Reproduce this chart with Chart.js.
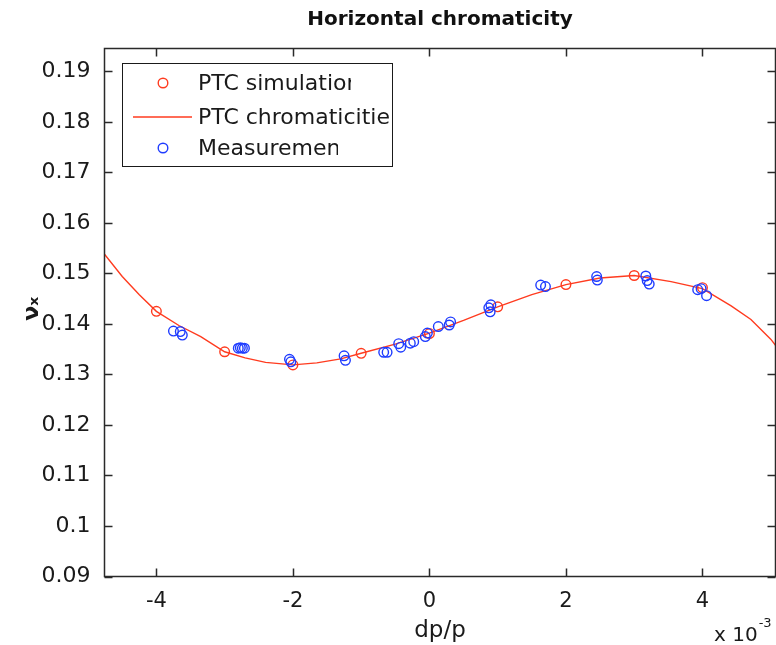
<!DOCTYPE html>
<html>
<head>
<meta charset="utf-8">
<title>Horizontal chromaticity</title>
<script src="https://cdn.jsdelivr.net/npm/chart.js@4.4.1/dist/chart.umd.min.js"></script>
<style>
  html, body { margin: 0; padding: 0; background: #fff; }
  canvas { display: block; }
</style>
</head>
<body>
<canvas id="chart" width="776" height="645"></canvas>
<script>
// dp/p in units of 1e-3
const simX = [-4, -3, -2, -1, 0, 1, 2, 3, 4];
const simY = [0.1425, 0.1345, 0.1319, 0.1342, 0.1381, 0.1434, 0.1478, 0.1496, 0.1472];

const curveX = [-4.76, -4.5, -4.25, -4.0, -3.67, -3.35, -3.0, -2.7, -2.4, -2.0, -1.65, -1.3, -1.0, -0.5, 0, 0.5, 1.0, 1.5, 2.0, 2.5, 3.0, 3.54, 4.0, 4.42, 4.71, 5.0, 5.07];
const curveY = [0.1538, 0.1494, 0.1458, 0.1425, 0.1397, 0.1375, 0.1345, 0.1333, 0.1324, 0.1319, 0.1323, 0.1331, 0.1342, 0.1360, 0.1382, 0.1407, 0.1434, 0.1458, 0.1478, 0.1491, 0.1496, 0.1484, 0.1470, 0.1436, 0.1409, 0.1370, 0.1358];

const measX = [-3.75, -3.65, -3.62, -2.80, -2.77, -2.74, -2.71, -2.05, -2.03, -1.25, -1.23, -0.67, -0.62, -0.45, -0.42, -0.28, -0.23, -0.06, -0.03, 0.13, 0.29, 0.31, 0.87, 0.90, 0.89, 1.63, 1.70, 2.45, 2.46, 3.17, 3.19, 3.22, 3.93, 3.98, 4.06];
const measY = [0.1386, 0.1385, 0.1378, 0.1352, 0.1353, 0.1352, 0.1352, 0.1330, 0.1325, 0.1337, 0.1328, 0.1344, 0.1344, 0.1361, 0.1354, 0.1362, 0.1365, 0.1375, 0.1382, 0.1395, 0.1398, 0.1404, 0.1432, 0.1438, 0.1424, 0.1477, 0.1474, 0.1494, 0.1487, 0.1495, 0.1486, 0.1479, 0.1468, 0.1470, 0.1456];

const xTicks = [-4, -2, 0, 2, 4];
const yTicks = [0.09, 0.10, 0.11, 0.12, 0.13, 0.14, 0.15, 0.16, 0.17, 0.18, 0.19];

const red = '#ff3b1f';
const blue = '#1f3cff';
const ink = '#1a1a1a';
const family = '"DejaVu Sans", "Liberation Sans", sans-serif';
const plotRight = 775.5;

function toPoints(xs, ys) {
    return xs.map(function (x, i) { return { x: x, y: ys[i] }; });
}

// the axes run to the right edge of the figure, past where the tick label padding would stop them
const edgePlugin = {
    id: 'edge',
    afterLayout: function (chart) {
        const a = chart.chartArea;
        a.right = plotRight;
        a.width = plotRight - a.left;
        const xs = chart.scales.x;
        xs.right = plotRight;
        xs.width = plotRight - xs.left;
        xs.configure();
        if (chart.titleBlock) {
            chart.titleBlock.right = plotRight;
            chart.titleBlock.width = plotRight - chart.titleBlock.left;
        }
    }
};

// box around the axes with inward ticks on all four sides
const framePlugin = {
    id: 'frame',
    afterDraw: function (chart) {
        const ctx = chart.ctx;
        const a = chart.chartArea;
        const xs = chart.scales.x;
        const ys = chart.scales.y;
        const len = 8;
        ctx.save();
        ctx.strokeStyle = '#2a2a2a';
        ctx.lineWidth = 1.5;
        ctx.strokeRect(a.left, a.top, a.right - a.left, a.bottom - a.top);
        ctx.beginPath();
        xTicks.forEach(function (v) {
            const px = Math.round(xs.getPixelForValue(v)) + 0.5;
            ctx.moveTo(px, a.bottom); ctx.lineTo(px, a.bottom - len);
            ctx.moveTo(px, a.top); ctx.lineTo(px, a.top + len);
        });
        yTicks.forEach(function (v) {
            const py = Math.round(ys.getPixelForValue(v)) + 0.5;
            ctx.moveTo(a.left, py); ctx.lineTo(a.left + len, py);
            ctx.moveTo(a.right, py); ctx.lineTo(a.right - len, py);
        });
        ctx.stroke();
        ctx.restore();
    }
};

// boxed legend in the upper left; labels are cut off the way the original shows them
const boxLegendPlugin = {
    id: 'boxLegend',
    afterDraw: function (chart) {
        const ctx = chart.ctx;
        const bx = 122.5, by = 63.5, bw = 270, bh = 103;
        const rows = [84, 118, 149];
        const cut = [351, 390, 338];
        ctx.save();
        ctx.fillStyle = '#fff';
        ctx.fillRect(bx, by, bw, bh);
        ctx.strokeStyle = '#1a1a1a';
        ctx.lineWidth = 1;
        ctx.strokeRect(bx, by, bw, bh);
        chart.data.datasets.forEach(function (ds, i) {
            const y = rows[i];
            ctx.strokeStyle = ds.borderColor;
            if (ds.showLine) {
                ctx.lineWidth = 1.5;
                ctx.beginPath();
                ctx.moveTo(133, y - 1); ctx.lineTo(192, y - 1);
                ctx.stroke();
            } else {
                ctx.lineWidth = 1.4;
                ctx.beginPath();
                ctx.arc(163, y - 1, 4.8, 0, Math.PI * 2);
                ctx.stroke();
            }
            ctx.save();
            ctx.beginPath();
            ctx.rect(bx, by, cut[i] - bx, bh);
            ctx.clip();
            ctx.fillStyle = ink;
            ctx.font = '22px ' + family;
            ctx.textBaseline = 'middle';
            ctx.textAlign = 'left';
            ctx.fillText(ds.label, 198, y);
            ctx.restore();
        });
        ctx.restore();
    }
};

// "x 10^-3" multiplier under the right end of the x axis
const exponentPlugin = {
    id: 'exponent',
    afterDraw: function (chart) {
        const ctx = chart.ctx;
        ctx.save();
        ctx.fillStyle = ink;
        ctx.textBaseline = 'alphabetic';
        ctx.textAlign = 'left';
        ctx.font = '20px ' + family;
        ctx.fillText('x 10', 714, 641);
        const w = ctx.measureText('x 10').width;
        ctx.font = '13px ' + family;
        ctx.fillText('-3', 714 + w + 1, 627);
        ctx.restore();
    }
};

new Chart(document.getElementById('chart').getContext('2d'), {
    type: 'scatter',
    data: {
        datasets: [
            {
                label: 'PTC simulation',
                data: toPoints(simX, simY),
                borderColor: red,
                backgroundColor: 'rgba(0,0,0,0)',
                pointRadius: 4.8,
                pointBorderWidth: 1.4,
                order: 2
            },
            {
                label: 'PTC chromaticities',
                data: toPoints(curveX, curveY),
                showLine: true,
                borderColor: red,
                borderWidth: 1.4,
                pointRadius: 0,
                tension: 0,
                order: 3
            },
            {
                label: 'Measurement',
                data: toPoints(measX, measY),
                borderColor: blue,
                backgroundColor: 'rgba(0,0,0,0)',
                pointRadius: 4.8,
                pointBorderWidth: 1.4,
                order: 1
            }
        ]
    },
    options: {
        responsive: false,
        animation: false,
        layout: { padding: { left: 0, right: 0, top: 0, bottom: 0 } },
        plugins: {
            legend: { display: false },
            tooltip: { enabled: false },
            title: {
                display: true,
                fullSize: false,
                text: 'Horizontal chromaticity',
                color: '#111',
                font: { family: family, size: 20, weight: 'bold' },
                padding: { top: 8, bottom: 16.5 }
            }
        },
        scales: {
            x: {
                type: 'linear',
                min: -4.76,
                max: 5.07,
                grid: { display: false },
                border: { display: false },
                afterBuildTicks: function (scale) {
                    scale.ticks = xTicks.map(function (v) { return { value: v }; });
                },
                afterFit: function (scale) {
                    scale.height = 68.5;
                    scale.paddingLeft = 0;
                    scale.paddingRight = 0;
                },
                ticks: {
                    color: ink,
                    font: { family: family, size: 21 },
                    padding: 4,
                    maxRotation: 0,
                    autoSkip: false,
                    callback: function (v) { return String(v); }
                },
                title: {
                    display: true,
                    text: 'dp/p',
                    color: ink,
                    font: { family: family, size: 23 },
                    padding: { top: 0, bottom: 0 }
                }
            },
            y: {
                type: 'linear',
                min: 0.09,
                max: 0.19455,
                grid: { display: false },
                border: { display: false },
                afterBuildTicks: function (scale) {
                    scale.ticks = yTicks.map(function (v) { return { value: v }; });
                },
                afterFit: function (scale) {
                    scale.width = 104.5;
                    scale.paddingTop = 0;
                    scale.paddingBottom = 0;
                },
                ticks: {
                    color: ink,
                    font: { family: family, size: 22 },
                    padding: 6,
                    autoSkip: false,
                    callback: function (v) { return String(Number(v.toFixed(2))); }
                },
                title: {
                    display: true,
                    text: ' νₓ',
                    color: ink,
                    font: { family: family, size: 22, weight: 'bold' },
                    padding: { top: 19, bottom: 0 }
                }
            }
        }
    },
    plugins: [edgePlugin, framePlugin, boxLegendPlugin, exponentPlugin]
});
</script>
</body>
</html>
